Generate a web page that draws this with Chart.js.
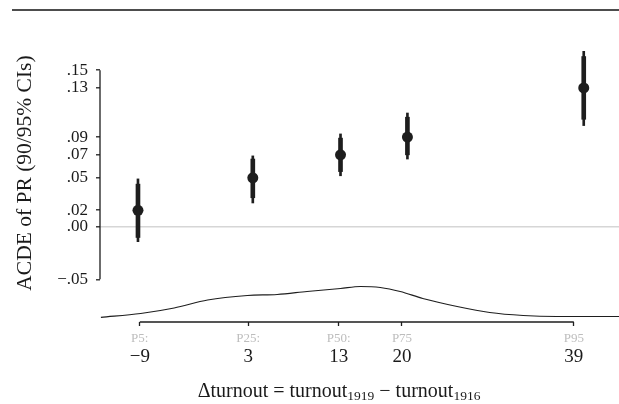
<!DOCTYPE html>
<html>
<head>
<meta charset="utf-8">
<script src="https://cdn.jsdelivr.net/npm/chart.js@4"></script>
<style>
  body { margin: 0; background: #fff; }
  #wrap { position: relative; width: 619px; height: 404px; }
  #rule { position: absolute; left: 12px; top: 9px; width: 607px; height: 2px; background: #4d4d4d; }
  #xtitle { position: absolute; left: 139px; width: 400px; top: 381px; text-align: center;
            font: 20px "Liberation Serif", serif; line-height: 19px; color: #1a1a1a; }
  #xtitle sub { font-size: 13.5px; vertical-align: -3px; line-height: 0; }
</style>
</head>
<body>
<div id="wrap">
  <div id="rule"></div>
  <canvas id="chart" width="619" height="404"></canvas>
  <div id="xtitle">&Delta;turnout = turnout<sub>1919</sub> &minus; turnout<sub>1916</sub></div>
</div>
<script>
// percentile positions of turnout change
const xPos = [-9.2, 3.5, 13.2, 20.6, 40.1];
const est = [0.016, 0.047, 0.069, 0.086, 0.133];
const ci95Lo = [-0.014, 0.023, 0.049, 0.065, 0.097];
const ci95Hi = [0.046, 0.068, 0.089, 0.109, 0.168];
const ci90Lo = [-0.010, 0.028, 0.053, 0.069, 0.103];
const ci90Hi = [0.041, 0.065, 0.085, 0.105, 0.163];

// x ticks
const xTickVals = [-9, 3, 13, 20, 39];
const xTickNames = ['P5:', 'P25:', 'P50:', 'P75', 'P95'];
const xTickLabels = ['\u22129', '3', '13', '20', '39'];

// y ticks (placed at the estimates)
const yTickVals = [-0.05, 0, 0.016, 0.047, 0.069, 0.086, 0.133, 0.15];
const yTickLabels = ['\u2212.05', '.00', '.02', '.05', '.07', '.09', '.13', '.15'];

// density of turnout change (curve under the plot)
const densX = [-13.3, -8.9, -5.2, -1.5, 2.9, 6.2, 9.5, 13.2, 15.4, 17.6, 19.8, 22.3, 26.1, 29.7, 33.4, 37.1, 44];
const densY = [0.0002, 0.004, 0.0095, 0.0175, 0.022, 0.023, 0.026, 0.029, 0.031, 0.030, 0.026, 0.019, 0.011, 0.005, 0.002, 0.001, 0.001];

const ink = '#1e1e1e';
const serif = '"Liberation Serif", serif';

const rangeFrame = {
  id: 'rangeFrame',
  afterDraw(chart) {
    const {ctx, chartArea, scales} = chart;
    ctx.save();
    ctx.strokeStyle = ink;
    ctx.lineWidth = 1.3;
    ctx.beginPath();
    ctx.moveTo(chartArea.left, scales.y.getPixelForValue(yTickVals[yTickVals.length - 1]));
    ctx.lineTo(chartArea.left, scales.y.getPixelForValue(yTickVals[0]));
    ctx.moveTo(scales.x.getPixelForValue(xTickVals[0]), chartArea.bottom);
    ctx.lineTo(scales.x.getPixelForValue(xTickVals[xTickVals.length - 1]), chartArea.bottom);
    ctx.stroke();
    ctx.restore();
  }
};

function noPad(s) {
  s.paddingLeft = 0; s.paddingRight = 0; s.paddingTop = 0; s.paddingBottom = 0;
}

new Chart(document.getElementById('chart'), {
  type: 'bar',
  data: {
    datasets: [
      {
        type: 'line',
        data: densX.map((x, i) => ({x: x, y: densY[i]})),
        yAxisID: 'yd',
        borderColor: ink,
        borderWidth: 1.2,
        pointRadius: 0,
        cubicInterpolationMode: 'monotone',
        fill: false
      },
      {
        data: xPos.map((x, i) => ({x: x, y: [ci95Lo[i], ci95Hi[i]]})),
        backgroundColor: ink,
        barThickness: 2,
        grouped: false
      },
      {
        data: xPos.map((x, i) => ({x: x, y: [ci90Lo[i], ci90Hi[i]]})),
        backgroundColor: ink,
        barThickness: 4,
        grouped: false
      },
      {
        type: 'line',
        data: xPos.map((x, i) => ({x: x, y: est[i]})),
        showLine: false,
        pointRadius: 5.5,
        pointBackgroundColor: ink,
        pointBorderColor: ink,
        pointBorderWidth: 0
      }
    ]
  },
  options: {
    responsive: false,
    devicePixelRatio: 1,
    animation: false,
    layout: { autoPadding: false, padding: { top: 24, left: 0, right: 0, bottom: 0 } },
    plugins: { legend: { display: false }, tooltip: { enabled: false } },
    scales: {
      x: {
        type: 'linear', position: 'bottom', offset: false, weight: 0,
        min: -13.4, max: 44,
        afterBuildTicks: s => { s.ticks = xTickVals.map(v => ({value: v})); },
        afterFit: s => { s.height = 22; noPad(s); },
        grid: { offset: false, drawOnChartArea: false, drawTicks: true, tickLength: 4, tickColor: ink, tickWidth: 1.3 },
        border: { display: false },
        ticks: {
          autoSkip: false, maxRotation: 0, padding: 5,
          color: '#bdbdbd', font: { family: serif, size: 13 },
          callback: (v, i) => xTickNames[i]
        }
      },
      x2: {
        type: 'linear', position: 'bottom', offset: false, weight: 1,
        min: -13.4, max: 44,
        afterBuildTicks: s => { s.ticks = xTickVals.map(v => ({value: v})); },
        afterFit: s => { s.height = 60; noPad(s); },
        grid: { display: false, drawTicks: false, offset: false },
        border: { display: false },
        ticks: {
          autoSkip: false, maxRotation: 0, padding: 2,
          color: '#1a1a1a', font: { family: serif, size: 19 },
          callback: (v, i) => xTickLabels[i]
        }
      },
      y: {
        type: 'linear', position: 'left',
        min: -0.0908, max: 0.1941,
        afterBuildTicks: s => { s.ticks = yTickVals.map(v => ({value: v})); },
        afterFit: s => { s.width = 100; noPad(s); },
        grid: {
          drawOnChartArea: true, drawTicks: true, tickLength: 4,
          color: c => (c.tick && c.tick.value === 0) ? '#d6d6d6' : 'rgba(0,0,0,0)',
          lineWidth: 1.6,
          tickColor: ink, tickWidth: 1.3
        },
        border: { display: false },
        ticks: {
          autoSkip: false, padding: 8,
          color: '#1a1a1a', font: { family: serif, size: 17 },
          callback: (v, i) => yTickLabels[i]
        },
        title: {
          display: true, text: 'ACDE of PR (90/95% CIs)',
          color: '#1a1a1a', font: { family: serif, size: 21.5 },
          padding: { top: 12, bottom: 0 }
        }
      },
      yd: {
        type: 'linear', display: false,
        min: -0.0045, max: 0.2935
      }
    }
  },
  plugins: [rangeFrame]
});
</script>
</body>
</html>
